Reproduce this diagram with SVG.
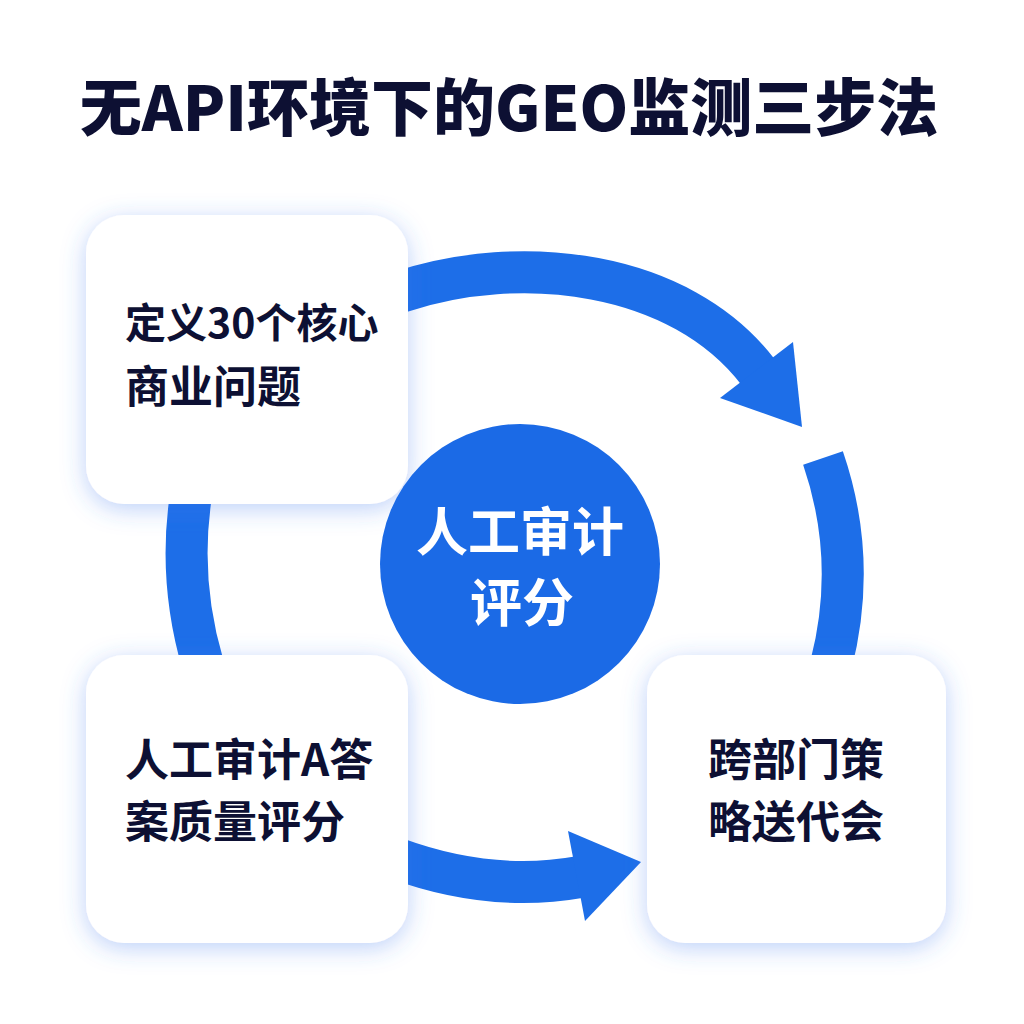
<svg xmlns="http://www.w3.org/2000/svg" width="1024" height="1024" viewBox="0 0 1024 1024">
<defs>
<style>
.title{font-family:"Noto Sans CJK SC","Noto Sans",sans-serif;font-weight:900;font-size:62px;fill:#0d1033;}
.lbl{font-family:"Noto Sans CJK SC","Noto Sans",sans-serif;font-weight:700;font-size:44px;fill:#0d1033;}
.ctr{font-family:"Noto Sans CJK SC","Noto Sans",sans-serif;font-weight:700;font-size:52px;fill:#ffffff;}
.box{fill:#ffffff;filter:url(#glow);}
.arc{fill:none;stroke:#1d6ee8;stroke-width:42;stroke-linecap:butt;}
.head{fill:#1d6ee8;}
</style>
<filter id="glow" x="-20%" y="-20%" width="140%" height="140%">
<feDropShadow dx="0" dy="5" stdDeviation="12" flood-color="#3a78ee" flood-opacity="0.34"/>
</filter>
</defs>
<rect width="1024" height="1024" fill="#ffffff"/>
<text class="title" x="509" y="131" text-anchor="middle">无API环境下的GEO监测三步法</text>
<g id="connectors">
<path class="arc" d="M 400 292 C 520 252, 680 270, 758 372"/>
<polygon class="head" points="793,342 802,427 720,398"/>
<path class="arc" d="M 823 458 Q 858 560 831 665"/>
<path class="arc" d="M 191 495 Q 178 580 203 665"/>
<path class="arc" d="M 395 858 Q 490 893 580 877"/>
<polygon class="head" points="568,831 641,862 585,921"/>
</g>
<g id="node-define">
<rect class="box" x="86" y="215" width="322" height="289" rx="38"/>
<text class="lbl" x="125" y="338" style="font-size:41px">定义30个核心</text>
<text class="lbl" x="125" y="403">商业问题</text>
</g>
<g id="node-audit">
<rect class="box" x="86" y="655" width="322" height="288" rx="38"/>
<text class="lbl" x="125" y="776">人工审计A答</text>
<text class="lbl" x="125" y="838">案质量评分</text>
</g>
<g id="node-meeting">
<rect class="box" x="647" y="655" width="299" height="288" rx="38"/>
<text class="lbl" x="796" y="776" text-anchor="middle">跨部门策</text>
<text class="lbl" x="796" y="838" text-anchor="middle">略送代会</text>
</g>
<g id="node-center">
<circle cx="520" cy="564" r="140" fill="#1b6ae6"/>
<text class="ctr" x="520" y="551" text-anchor="middle">人工审计</text>
<text class="ctr" x="522" y="622" text-anchor="middle">评分</text>
</g>
</svg>
